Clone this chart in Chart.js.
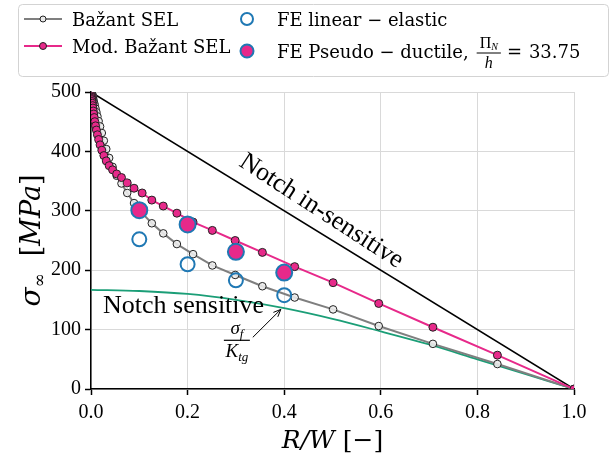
<!DOCTYPE html>
<html>
<head>
<meta charset="utf-8">
<script src="https://cdn.jsdelivr.net/npm/chart.js@4.4.1/dist/chart.umd.min.js"></script>
<style>
  html, body { margin: 0; padding: 0; background: #fff; }
</style>
</head>
<body>
<canvas id="grafico" width="612" height="460"></canvas>
<script>
// Dados
const rw = [0.001, 0.0012, 0.0014, 0.0017, 0.002, 0.0024, 0.0028, 0.0034, 0.004, 0.0047,
    0.0056, 0.0067, 0.0079, 0.0094, 0.0112, 0.0133, 0.0158, 0.0188, 0.0224, 0.0266,
    0.0316, 0.0376, 0.0447, 0.0531, 0.0631, 0.075, 0.0891, 0.1059, 0.1259, 0.1496,
    0.1778, 0.2113, 0.2512, 0.2985, 0.3548, 0.4217, 0.5012, 0.5957, 0.7079, 0.8414, 1.0]
const bazant = [499, 499, 498, 498, 497, 496, 495, 493, 491, 488,
    484, 481, 477, 472, 466, 459, 451, 442, 431, 418,
    404, 389, 374, 359, 346, 330, 313, 296, 279, 262,
    244, 227, 208, 192, 173, 154, 134, 106, 76, 42, 0]
const modBazant = [494, 492, 491, 489, 487, 484, 481, 477, 473, 468,
    463, 457, 450, 443, 436, 428, 420, 411, 402, 393,
    384, 376, 369, 362, 356, 347, 338, 330, 318, 308,
    296, 281, 267, 250, 230, 206, 179, 144, 104, 57, 0]
const feX = [0.1, 0.2, 0.3, 0.4]
const feLinear = [252, 210, 183, 158]
const fePseudo = [301, 277, 231, 196]
const ktgX = [0, 0.1, 0.2, 0.3, 0.4, 0.5, 0.6, 0.7, 0.8, 0.9, 1.0]
const ktgY = [167, 165, 160, 150, 136, 118, 97, 75, 50, 25, 0]
const insensX = [0, 1]
const insensY = [500, 0]
const xTicks = [0, 0.2, 0.4, 0.6, 0.8, 1.0]
const yTicks = [0, 100, 200, 300, 400, 500]

const SERIF = "'Liberation Serif', 'DejaVu Serif', serif"
const LARGA = "'DejaVu Serif', 'Liberation Serif', serif"
const CINZA = '#7f7f7f'
const ROSA = '#e7298a'
const VERDE = '#1b9e77'
const AZUL = '#1f78b4'

function pares(xs, ys) {
    return xs.map((x, i) => ({ x: x, y: ys[i] }))
}

// escreve texto com partes (sub-índices, itálico)
function escreve(ctx, partes, x, y, medir) {
    let w = 0
    partes.forEach(p => {
        ctx.font = p.f
        if (!medir) ctx.fillText(p.t, x + w, y + (p.dy || 0))
        w += ctx.measureText(p.t).width
    })
    return w
}

function circulo(ctx, x, y, r, fill, stroke, lw) {
    ctx.beginPath()
    ctx.arc(x, y, r, 0, Math.PI * 2)
    if (fill) { ctx.fillStyle = fill; ctx.fill() }
    if (stroke) { ctx.strokeStyle = stroke; ctx.lineWidth = lw; ctx.stroke() }
}

const extras = {
    id: 'extras',
    afterDraw(chart) {
        const ctx = chart.ctx
        const sx = chart.scales.x, sy = chart.scales.y
        ctx.save()
        ctx.fillStyle = '#000'
        ctx.textBaseline = 'alphabetic'

        // Notch in-sensitive
        ctx.save()
        ctx.translate(sx.getPixelForValue(0.478), sy.getPixelForValue(301))
        ctx.rotate(33 * Math.PI / 180)
        ctx.font = '26px ' + SERIF
        ctx.textAlign = 'center'
        ctx.fillText('Notch in-sensitive', 0, 8)
        ctx.restore()

        // Notch sensitive
        ctx.font = '26px ' + SERIF
        ctx.textAlign = 'left'
        ctx.fillText('Notch sensitive', sx.getPixelForValue(0.025), sy.getPixelForValue(128))

        // sigma_f / K_tg
        const cx = sx.getPixelForValue(0.302)
        const barY = sy.getPixelForValue(82)
        const sig = [{ t: 'σ', f: 'italic 19px ' + SERIF }, { t: 'f', f: 'italic 13px ' + SERIF, dy: 4 }]
        const ktg = [{ t: 'K', f: 'italic 19px ' + SERIF }, { t: 'tg', f: 'italic 13px ' + SERIF, dy: 4 }]
        const w1 = escreve(ctx, sig, 0, 0, true)
        escreve(ctx, sig, cx - w1 / 2, barY - 6)
        const w2 = escreve(ctx, ktg, 0, 0, true)
        escreve(ctx, ktg, cx - w2 / 2, barY + 17)
        ctx.strokeStyle = '#000'
        ctx.lineWidth = 1.2
        ctx.beginPath()
        ctx.moveTo(cx - 13, barY)
        ctx.lineTo(cx + 13, barY)
        ctx.stroke()

        // seta
        const ax0 = sx.getPixelForValue(0.335), ay0 = sy.getPixelForValue(87)
        const ax1 = sx.getPixelForValue(0.393), ay1 = sy.getPixelForValue(134)
        const ang = Math.atan2(ay1 - ay0, ax1 - ax0)
        ctx.lineWidth = 1
        ctx.beginPath()
        ctx.moveTo(ax0, ay0)
        ctx.lineTo(ax1, ay1)
        ctx.moveTo(ax1 - 8 * Math.cos(ang - 0.4), ay1 - 8 * Math.sin(ang - 0.4))
        ctx.lineTo(ax1, ay1)
        ctx.lineTo(ax1 - 8 * Math.cos(ang + 0.4), ay1 - 8 * Math.sin(ang + 0.4))
        ctx.stroke()

        // títulos dos eixos
        const tx = [{ t: 'R/W', f: 'italic 25px ' + LARGA }, { t: ' [−]', f: '25px ' + LARGA }]
        const wx = escreve(ctx, tx, 0, 0, true)
        escreve(ctx, tx, (sx.left + sx.right) / 2 - wx / 2, 448)

        const ty = [{ t: 'σ', f: 'italic 28px ' + LARGA }, { t: '∞', f: '17px ' + LARGA, dy: 5 },
            { t: '  [', f: '27px ' + LARGA }, { t: 'MPa', f: 'italic 27px ' + LARGA }, { t: ']', f: '27px ' + LARGA }]
        const wy = escreve(ctx, ty, 0, 0, true)
        ctx.save()
        ctx.translate(40, (sy.top + sy.bottom) / 2)
        ctx.rotate(-Math.PI / 2)
        escreve(ctx, ty, -wy / 2, 0)
        ctx.restore()

        // legenda
        ctx.fillStyle = 'rgba(255,255,255,0.85)'
        ctx.strokeStyle = '#d3d3d3'
        ctx.lineWidth = 1
        ctx.beginPath()
        ctx.roundRect(18.5, 4.5, 590, 72, 4)
        ctx.fill()
        ctx.stroke()

        const fLeg = '18px ' + LARGA
        // col 1
        ctx.lineWidth = 2
        ctx.strokeStyle = CINZA
        ctx.beginPath(); ctx.moveTo(24, 19); ctx.lineTo(62, 19); ctx.stroke()
        circulo(ctx, 43, 19, 3, '#e8e8e8', '#222', 1)
        ctx.strokeStyle = ROSA
        ctx.lineWidth = 2
        ctx.beginPath(); ctx.moveTo(24, 46); ctx.lineTo(62, 46); ctx.stroke()
        circulo(ctx, 43, 46, 3.5, ROSA, '#222', 1)
        ctx.fillStyle = '#000'
        ctx.font = fLeg
        ctx.fillText('Bažant SEL', 72, 26)
        ctx.fillText('Mod. Bažant SEL', 72, 53)
        // col 2
        circulo(ctx, 247, 19, 6, null, AZUL, 2)
        circulo(ctx, 247, 51, 6.5, ROSA, AZUL, 2)
        ctx.fillStyle = '#000'
        ctx.font = fLeg
        ctx.fillText('FE linear − elastic', 277, 26)
        const px = 277 + escreve(ctx, [{ t: 'FE Pseudo − ductile,', f: fLeg }], 277, 58) + 8
        const num = [{ t: 'Π', f: '16px ' + SERIF }, { t: 'N', f: 'italic 10px ' + SERIF, dy: 2 }]
        const wn = escreve(ctx, num, 0, 0, true)
        const wf = wn + 6
        escreve(ctx, num, px + (wf - wn) / 2, 48)
        ctx.font = 'italic 16px ' + SERIF
        ctx.fillText('h', px + wf / 2 - 4, 68)
        ctx.strokeStyle = '#000'
        ctx.lineWidth = 1
        ctx.beginPath(); ctx.moveTo(px, 53); ctx.lineTo(px + wf, 53); ctx.stroke()
        ctx.font = fLeg
        ctx.fillText('=', px + wf + 6, 58)
        ctx.fillText('33.75', px + wf + 28, 58)

        ctx.restore()
    }
}

new Chart(document.getElementById('grafico'), {
    type: 'scatter',
    data: {
        datasets: [
            {
                label: 'FE Pseudo − ductile',
                data: pares(feX, fePseudo),
                showLine: false,
                pointRadius: 8,
                pointBackgroundColor: ROSA,
                pointBorderColor: AZUL,
                pointBorderWidth: 2,
                order: 0
            },
            {
                label: 'FE linear − elastic',
                data: pares(feX, feLinear),
                showLine: false,
                pointRadius: 7,
                pointBackgroundColor: 'rgba(0,0,0,0)',
                pointBorderColor: AZUL,
                pointBorderWidth: 2,
                order: 1
            },
            {
                label: 'Mod. Bažant SEL',
                data: pares(rw, modBazant),
                showLine: true,
                borderColor: ROSA,
                borderWidth: 2,
                pointRadius: 4,
                pointBackgroundColor: ROSA,
                pointBorderColor: '#222',
                pointBorderWidth: 1,
                order: 2
            },
            {
                label: 'Bažant SEL',
                data: pares(rw, bazant),
                showLine: true,
                borderColor: CINZA,
                borderWidth: 2,
                pointRadius: 3.8,
                pointBackgroundColor: 'rgba(235,235,235,0.9)',
                pointBorderColor: '#222',
                pointBorderWidth: 1,
                order: 3
            },
            {
                label: 'sigma_f / K_tg',
                data: pares(ktgX, ktgY),
                showLine: true,
                borderColor: VERDE,
                borderWidth: 1.8,
                pointRadius: 0,
                cubicInterpolationMode: 'monotone',
                order: 4
            },
            {
                label: 'Notch in-sensitive',
                data: pares(insensX, insensY),
                showLine: true,
                borderColor: '#000',
                borderWidth: 1.5,
                pointRadius: 0,
                order: 5
            }
        ]
    },
    plugins: [extras],
    options: {
        responsive: false,
        animation: false,
        devicePixelRatio: 1,
        layout: { padding: { top: 92, right: 38, left: 0, bottom: 0 } },
        plugins: {
            legend: { display: false },
            tooltip: { enabled: false }
        },
        scales: {
            x: {
                type: 'linear',
                min: 0,
                max: 1,
                afterFit: s => { s.height = 71 },
                afterBuildTicks: s => { s.ticks = xTicks.map(v => ({ value: v })) },
                ticks: {
                    color: '#000',
                    padding: 6,
                    font: { family: SERIF, size: 20 },
                    callback: v => v.toFixed(1)
                },
                grid: { color: '#d9d9d9', lineWidth: 1, tickColor: '#000', tickLength: 6, tickWidth: 1.5 },
                border: { color: '#000', width: 1.5 }
            },
            y: {
                type: 'linear',
                min: 0,
                max: 500,
                afterFit: s => { s.width = 91 },
                afterBuildTicks: s => { s.ticks = yTicks.map(v => ({ value: v })) },
                ticks: {
                    color: '#000',
                    padding: 4,
                    font: { family: SERIF, size: 20 }
                },
                grid: { color: '#d9d9d9', lineWidth: 1, tickColor: '#000', tickLength: 6, tickWidth: 1.5 },
                border: { color: '#000', width: 1.5 }
            }
        }
    }
})
</script>
</body>
</html>
